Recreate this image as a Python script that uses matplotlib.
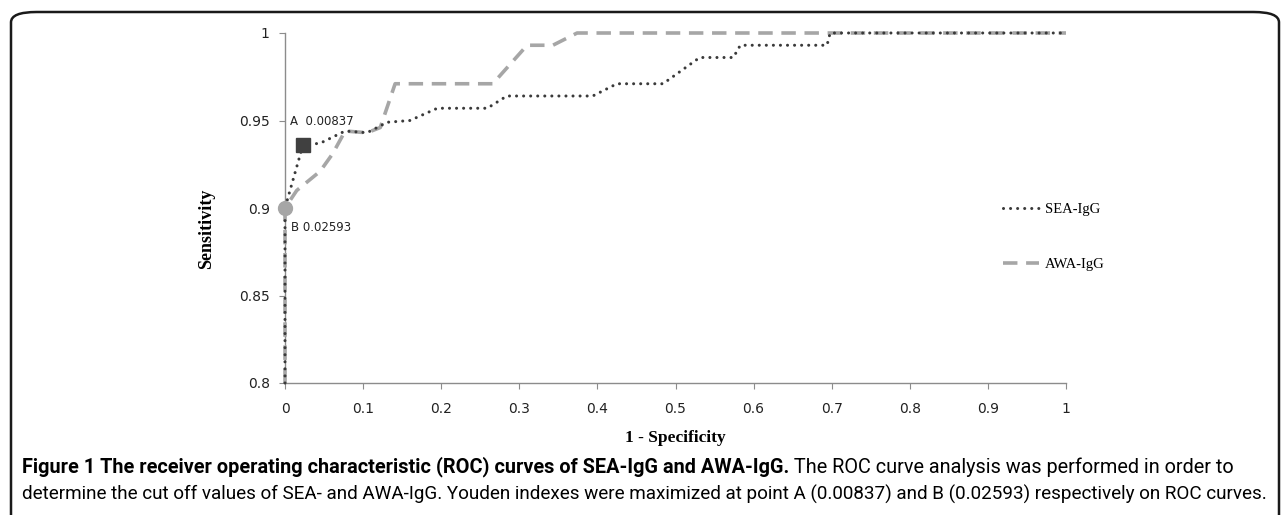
import matplotlib
matplotlib.use("Agg")
import matplotlib.pyplot as plt
from matplotlib.patches import FancyBboxPatch

# ROC points (1 - specificity, sensitivity)
sea_fpr = [0, 0, 0.023, 0.045, 0.077, 0.105, 0.131, 0.16, 0.195, 0.259, 0.284,
           0.394, 0.425, 0.484, 0.531, 0.574, 0.583, 0.694, 0.698, 1.0]
sea_tpr = [0.8, 0.9, 0.936, 0.937, 0.944, 0.943, 0.949, 0.950, 0.957, 0.957, 0.964,
           0.964, 0.971, 0.971, 0.986, 0.986, 0.993, 0.993, 1.0, 1.0]

awa_fpr = [0, 0, 0.015, 0.045, 0.061, 0.077, 0.105, 0.122, 0.141, 0.266,
           0.31, 0.343, 0.374, 1.0]
awa_tpr = [0.8, 0.9, 0.910, 0.921, 0.931, 0.944, 0.943, 0.946, 0.971, 0.971,
           0.993, 0.993, 1.0, 1.0]

point_a = (0.023, 0.936)
point_b = (0.0, 0.9)
label_a = "A  0.00837"
label_b = "B 0.02593"

xticks = [0, 0.1, 0.2, 0.3, 0.4, 0.5, 0.6, 0.7, 0.8, 0.9, 1]
yticks = [0.8, 0.85, 0.9, 0.95, 1]
xtick_labels = ["0", "0.1", "0.2", "0.3", "0.4", "0.5", "0.6", "0.7", "0.8", "0.9", "1"]
ytick_labels = ["0.8", "0.85", "0.9", "0.95", "1"]

cap_bold = "Figure 1 The receiver operating characteristic (ROC) curves of SEA-IgG and AWA-IgG."
cap_rest = " The ROC curve analysis was performed in order to"
cap_line2 = ("determine the cut off values of SEA- and AWA-IgG. Youden indexes were maximized "
             "at point A (0.00837) and B (0.02593) respectively on ROC curves.")

W, H = 1283, 515
fig = plt.figure(figsize=(W / 100, H / 100), dpi=100)
serif = ["Liberation Serif", "DejaVu Serif"]
narrow = ["Roboto", "DejaVu Sans"]

# rounded frame round the figure + caption
frame = FancyBboxPatch((11 / W, -0.2), (1279 - 11) / W, 1.2 - 12 / H,
                       boxstyle="round,pad=0,rounding_size=0.02",
                       transform=fig.transFigure, facecolor="none",
                       edgecolor="#1a1a1a", linewidth=1.8)
fig.patches.append(frame)

ax = fig.add_axes([285 / W, 1 - 383 / H, (1066 - 285) / W, 350 / H])
ax.set_xlim(0, 1)
ax.set_ylim(0.8, 1)

ax.plot(awa_fpr, awa_tpr, color="#a6a6a6", linewidth=2.6,
        linestyle=(0, (4.0, 2.4)), label="AWA-IgG", clip_on=False, zorder=3)
ax.plot(sea_fpr, sea_tpr, color="#3a3a3a", linewidth=2.2, dash_capstyle="round",
        linestyle=(0, (0.01, 2.3)), label="SEA-IgG", clip_on=False, zorder=4)

ax.plot(*point_a, marker="s", markersize=10, color="#404040", clip_on=False, zorder=5)
ax.plot(*point_b, marker="o", markersize=10, color="#a6a6a6", clip_on=False, zorder=5)
ax.text(0.0064, 0.9497, label_a, fontsize=8.5, color="#222222", va="center", ha="left")
ax.text(0.0075, 0.8886, label_b, fontsize=8.5, color="#222222", va="center", ha="left")

for side in ["top", "right"]:
    ax.spines[side].set_visible(False)
for side in ["left", "bottom"]:
    ax.spines[side].set_color("#8c8c8c")
    ax.spines[side].set_linewidth(1.0)
ax.set_xticks(xticks)
ax.set_xticklabels(xtick_labels)
ax.set_yticks(yticks)
ax.set_yticklabels(ytick_labels)
ax.tick_params(axis="both", direction="out", length=4, color="#8c8c8c",
               labelsize=10, labelcolor="#222222")
ax.tick_params(axis="x", pad=10)
ax.tick_params(axis="y", pad=7)

fig.text(207 / W, 1 - 229 / H, "Sensitivity", rotation=90, ha="center", va="center",
         family=serif, fontweight="bold", fontsize=13)
fig.text(675 / W, 1 - 438 / H, "1 - Specificity", ha="center", va="center",
         family=serif, fontweight="bold", fontsize=12.5)

handles, labels = ax.get_legend_handles_labels()
leg = ax.legend(handles[::-1], labels[::-1], frameon=False, loc="upper left",
                bbox_to_anchor=((1003 - 285) / 781, (383 - 203) / 350),
                prop={"family": serif, "size": 10.5}, handlelength=2.5,
                handletextpad=0.4, labelspacing=2.85, borderaxespad=0, borderpad=0)

# caption, scaled so each line fills the frame width
r = fig.canvas.get_renderer()
left, right = 22, 1266
cap_kw = dict(family=narrow, va="center", ha="left", fontsize=12)
t1 = fig.text(left / W, 1 - 467 / H, cap_bold, fontweight="bold", **cap_kw)
t1b = fig.text(0, 1 - 467 / H, cap_rest, **cap_kw)
t2 = fig.text(left / W, 1 - 494 / H, cap_line2, **cap_kw)
w1 = t1.get_window_extent(r).width + t1b.get_window_extent(r).width
w2 = t2.get_window_extent(r).width
s1 = 12 * (1235 - left) / w1
s2 = 12 * (right - left) / w2
t1.set_fontsize(s1)
t1b.set_fontsize(s1)
t2.set_fontsize(s2)
x_end = t1.get_window_extent(r).x1
t1b.set_x(x_end / W)

fig.savefig("out.png", dpi=100)
